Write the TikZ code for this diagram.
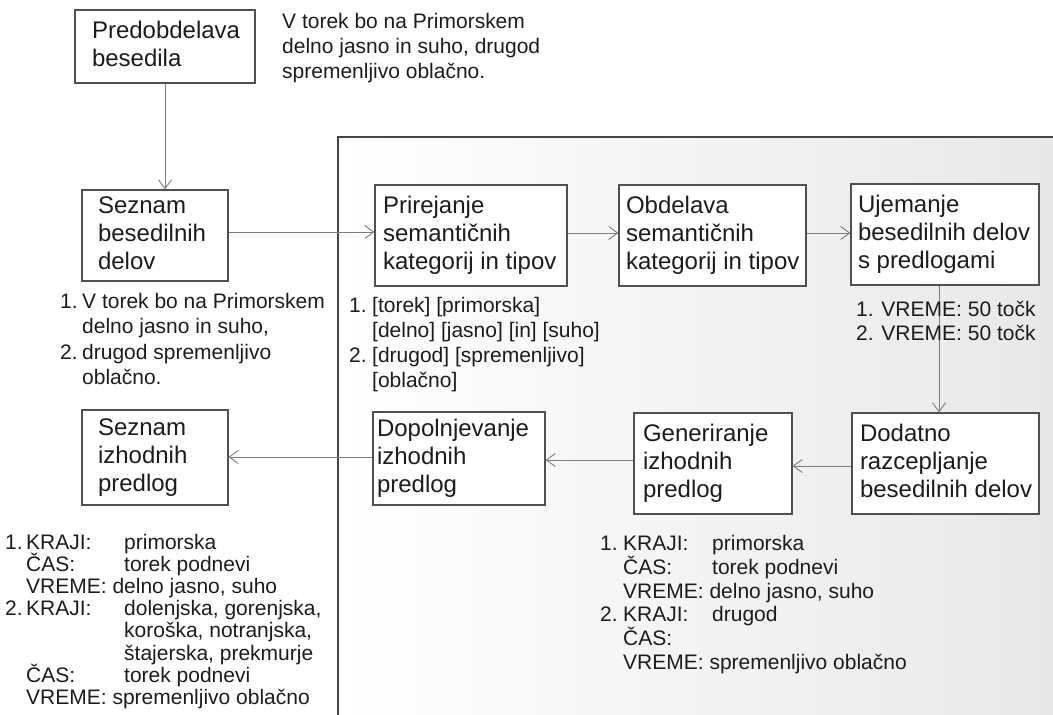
\documentclass[tikz,border=0pt]{standalone}
\usepackage{fontspec}
\setmainfont{Liberation Sans}
\usetikzlibrary{arrows.meta}

\definecolor{boxline}{HTML}{505050}
\definecolor{arrowline}{HTML}{7C7C7C}
\definecolor{panelline}{HTML}{454545}
\definecolor{panelgray}{HTML}{E8E8E9}
\definecolor{ink}{HTML}{1C1C1C}

\newlength\numw
\newlength\lblw
\newcommand{\ListNo}[1]{\makebox[\numw][l]{#1}}
\newcommand{\ListLbl}[1]{\makebox[\lblw][l]{\smash{#1}}}
\newcommand{\ListInd}{\hspace*{\numw}}
% left-aligned block of unbroken lines inside a box of given text width
\newcommand{\BoxLines}[2]{\makebox[#1][l]{\begin{tabular}{@{}l@{}}#2\end{tabular}}}

\begin{document}
\begin{tikzpicture}[x=1pt,y=-1pt,
  box/.style={draw=boxline, line width=1.1pt, fill=white, inner ysep=0pt,
    text=ink, font=\fontsize{24}{28}\selectfont},
  flow/.style={draw=arrowline, line width=0.9pt,
    -{Straight Barb[length=9pt,width=13pt,line width=0.9pt]}},
  note/.style={anchor=base west, inner sep=0pt, text=ink}
]
\useasboundingbox (0,0) rectangle (1053,715);

% shaded panel holding the processing steps
\shade[left color=white, right color=panelgray] (338,137) rectangle (1053,715);
\draw[panelline, line width=1.6pt] (338,715) -- (338,137) -- (1053,137);

% process boxes
\node[box, minimum width=180pt, minimum height=73pt, inner xsep=17pt]
  (pre) at (165,46.5) {\BoxLines{146pt}{Predobdelava\\besedila}};
\node[box, minimum width=146pt, minimum height=91pt, inner xsep=16pt]
  (sez) at (155,235.5) {\BoxLines{114pt}{Seznam\\besedilnih\\delov}};
\node[box, minimum width=192pt, minimum height=101pt, inner xsep=8pt]
  (pri) at (471,235.5) {\BoxLines{176pt}{Prirejanje\\semantičnih\\kategorij in tipov}};
\node[box, minimum width=187pt, minimum height=101pt, inner xsep=7pt]
  (obd) at (712.5,235.5) {\BoxLines{173pt}{Obdelava\\semantičnih\\kategorij in tipov}};
\node[box, minimum width=188pt, minimum height=101pt, inner xsep=7pt]
  (uje) at (945,234.5) {\BoxLines{174pt}{Ujemanje\\besedilnih delov\\s predlogami}};
\node[box, minimum width=187pt, minimum height=101pt, inner xsep=8pt]
  (dod) at (945.5,463.5) {\BoxLines{171pt}{Dodatno\\razcepljanje\\besedilnih delov}};
\node[box, minimum width=158pt, minimum height=101pt, inner xsep=9pt]
  (gen) at (713,463.5) {\BoxLines{140pt}{Generiranje\\izhodnih\\predlog}};
\node[box, minimum width=172pt, minimum height=93pt, inner xsep=4pt]
  (dop) at (459,458.5) {\BoxLines{164pt}{Dopolnjevanje\\izhodnih\\predlog}};
\node[box, minimum width=146pt, minimum height=95pt, inner xsep=16pt]
  (siz) at (155,457.5) {\BoxLines{114pt}{Seznam\\izhodnih\\predlog}};

% connectors
\draw[flow] (pre.south) -- (pre.south |- sez.north);
\draw[flow] ([yshift=3.5pt]sez.east) -- ([yshift=3.5pt]sez.east -| pri.west);
\draw[flow] ([yshift=2.5pt]pri.east) -- ([yshift=2.5pt]pri.east -| obd.west);
\draw[flow] ([yshift=2.5pt]obd.east) -- ([yshift=2.5pt]obd.east -| uje.west);
\draw[flow] ([xshift=-6pt]uje.south) -- ([xshift=-6pt]uje.south |- dod.north);
\draw[flow] ([yshift=-2.5pt]dod.west) -- ([yshift=-2.5pt]dod.west -| gen.east);
\draw[flow] ([yshift=3.5pt]gen.west) -- ([yshift=3.5pt]gen.west -| dop.east);
\draw[flow] ([yshift=1.5pt]dop.west) -- ([yshift=1.5pt]dop.west -| siz.east);

% sample text and intermediate results
\node[note, font=\fontsize{21}{25}\selectfont] (intro) at (282,28)
  {\begin{tabular}[t]{@{}l@{}}V torek bo na Primorskem\\delno jasno in suho, drugod\\spremenljivo oblačno.\end{tabular}};

\node[note, font=\fontsize{21}{25.5}\selectfont] (parts) at (60,308)
  {\setlength\numw{22pt}\begin{tabular}[t]{@{}l@{}}
   \ListNo{1.}V torek bo na Primorskem\\
   \ListInd delno jasno in suho,\\
   \ListNo{2.}drugod spremenljivo\\
   \ListInd oblačno.\end{tabular}};

\node[note, font=\fontsize{21}{25}\selectfont] (cats) at (349,312)
  {\setlength\numw{23pt}\begin{tabular}[t]{@{}l@{}}
   \ListNo{1.}[torek] [primorska]\\
   \ListInd [delno] [jasno] [in] [suho]\\
   \ListNo{2.}[drugod] [spremenljivo]\\
   \ListInd [oblačno]\end{tabular}};

\node[note, font=\fontsize{21}{24}\selectfont] (score) at (856,316.5)
  {\begin{tabular}[t]{@{}l@{}}1. VREME: 50 točk\\2. VREME: 50 točk\end{tabular}};

\node[note, font=\fontsize{21}{23.8}\selectfont] (genlist) at (600,550.5)
  {\setlength\numw{23pt}\setlength\lblw{89pt}\begin{tabular}[t]{@{}l@{}}
   \ListNo{1.}\ListLbl{KRAJI:}primorska\\
   \ListInd\ListLbl{ČAS:}torek podnevi\\
   \ListInd VREME: delno jasno, suho\\
   \ListNo{2.}\ListLbl{KRAJI:}drugod\\
   \ListInd\ListLbl{ČAS:}\\
   \ListInd VREME: spremenljivo oblačno\end{tabular}};

\node[note, font=\fontsize{21}{22.1}\selectfont] (outlist) at (5,549.5)
  {\setlength\numw{21pt}\setlength\lblw{98pt}\begin{tabular}[t]{@{}l@{}}
   \ListNo{1.}\ListLbl{KRAJI:}primorska\\
   \ListInd\ListLbl{ČAS:}torek podnevi\\
   \ListInd VREME: delno jasno, suho\\
   \ListNo{2.}\ListLbl{KRAJI:}dolenjska, gorenjska,\\
   \ListInd\ListLbl{}koroška, notranjska,\\
   \ListInd\ListLbl{}\smash{štajerska, prekmurje}\\
   \ListInd\ListLbl{ČAS:}torek podnevi\\
   \ListInd VREME: spremenljivo oblačno\end{tabular}};
\end{tikzpicture}
\end{document}
